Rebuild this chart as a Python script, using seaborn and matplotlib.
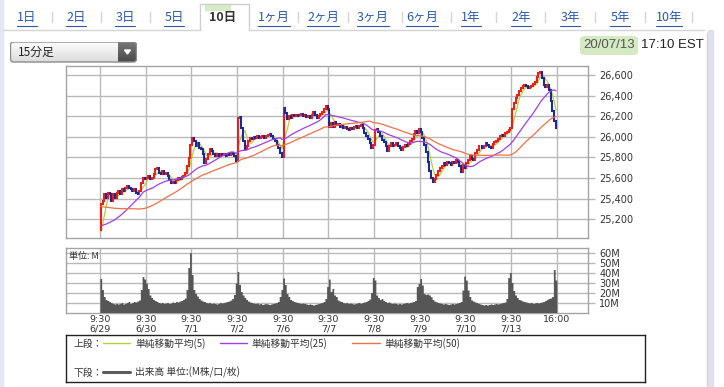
import numpy as np
import pandas as pd
import matplotlib
matplotlib.use('Agg')
import matplotlib.pyplot as plt
import seaborn as sns
from matplotlib.patches import FancyBboxPatch, Rectangle, Polygon
from matplotlib.lines import Line2D

sns.set_theme(style='white')
plt.rcParams['font.family'] = ['DejaVu Sans', 'Noto Sans CJK JP']
JP = ['Noto Sans CJK JP', 'DejaVu Sans']

# --- data (15-minute bars, 26 per session) ---
days = ['6/29', '6/30', '7/1', '7/2', '7/6', '7/7', '7/8', '7/9', '7/10', '7/13']

# bars before 6/29, estimated from where the moving averages start
prior_closes = [25560, 25540, 25550, 25530, 25520, 25540, 25530, 25510, 25500, 25520,
                25510, 25490, 25500, 25520, 25510, 25500, 25490, 25510, 25500, 25490,
                25480, 25500, 25490, 25480, 25470,
                25330, 25300, 25280, 25250, 25230, 25200, 25190, 25170, 25150, 25140,
                25130, 25120, 25110, 25100, 25090, 25080, 25070, 25060, 25050, 25040,
                25030, 25020, 25010, 25000]
first_open = 25100

close_0629 = [25344, 25376, 25441, 25409, 25457, 25441, 25376, 25441, 25409, 25457, 25473, 25441, 25489,
              25473, 25506, 25522, 25506, 25489, 25473, 25489, 25457, 25441, 25473, 25554, 25602, 25586]
close_0630 = [25602, 25619, 25586, 25602, 25635, 25683, 25699, 25651, 25635, 25667, 25635, 25651, 25619,
              25577, 25554, 25564, 25554, 25577, 25602, 25586, 25609, 25619, 25651, 25716, 25796, 25925]
close_0701 = [25990, 25958, 25909, 25942, 25893, 25877, 25829, 25748, 25780, 25829, 25877, 25861, 25829,
              25812, 25835, 25812, 25829, 25819, 25835, 25812, 25835, 25819, 25845, 25829, 25812, 25764]
close_0702 = [26184, 26190, 26087, 25958, 25877, 25909, 25958, 25990, 25974, 25997, 25984, 26003, 25990,
              26000, 26009, 25990, 26006, 26016, 26029, 26006, 25974, 25958, 25925, 25893, 25845, 25805]
close_0706 = [26281, 26232, 26168, 26200, 26184, 26216, 26200, 26216, 26200, 26210, 26223, 26200, 26210,
              26190, 26200, 26184, 26216, 26242, 26210, 26184, 26200, 26223, 26242, 26265, 26297, 26265]
close_0707 = [26099, 26132, 26099, 26141, 26116, 26122, 26099, 26109, 26083, 26096, 26077, 26067, 26090,
              26077, 26096, 26109, 26090, 26106, 26116, 26083, 26035, 26012, 25980, 25938, 25896, 25916]
close_0708 = [26067, 26077, 26051, 26003, 25970, 25948, 25906, 25864, 25915, 25935, 25906, 25922, 25935,
              25915, 25889, 25873, 25902, 25922, 25906, 25928, 25961, 25980, 26025, 26057, 26035, 26077]
close_0709 = [26051, 25993, 25922, 25851, 25760, 25670, 25599, 25566, 25592, 25631, 25670, 25696, 25721,
              25744, 25728, 25760, 25741, 25728, 25760, 25747, 25776, 25760, 25712, 25657, 25728, 25700]
close_0710 = [25744, 25776, 25809, 25786, 25776, 25841, 25873, 25906, 25915, 25889, 25906, 25935, 25922,
              25902, 25896, 25928, 25948, 25961, 25980, 26003, 26019, 26012, 26035, 26051, 26064, 26083]
close_0713 = [26270, 26330, 26375, 26410, 26440, 26470, 26490, 26505, 26490, 26475, 26480, 26490, 26510,
              26535, 26580, 26615, 26632, 26570, 26505, 26480, 26505, 26450, 26350, 26250, 26150, 26085]

# volume, millions
vol_0629 = [34, 23, 16, 13, 12, 11, 10, 9, 8.5, 9, 8.5, 9, 10, 8.5, 9, 10, 11, 9, 10, 11, 10.5, 11.5, 12.5, 23, 36, 33.5]
vol_0630 = [29.5, 24, 17.5, 15, 13, 12, 11, 10, 9.5, 10, 9, 9.5, 10, 9, 9.5, 10.5, 10, 11, 10.5, 11.5, 12, 13, 14.5, 23, 45, 60]
vol_0701 = [38, 23, 19, 16.5, 14, 12.5, 11.5, 11, 10, 9.5, 10, 9, 9.5, 9, 8.5, 9, 10, 9.5, 10, 10.5, 11, 11.5, 12.5, 14, 18, 29.5]
vol_0702 = [41, 28, 21, 17.5, 15, 13, 11.5, 10.5, 10, 9.5, 9, 9.5, 8.5, 9, 8, 8.5, 9, 8.5, 8, 8.5, 9, 9.5, 10, 11, 16, 23]
vol_0706 = [34.5, 28, 19, 16, 13, 12, 11, 10.5, 10, 9.5, 9, 9.5, 9, 8.5, 8, 8.5, 8, 7.5, 8, 8.5, 9, 9.5, 10, 11, 14, 26]
vol_0707 = [33.5, 21, 24, 17.5, 16, 12.5, 11.5, 11, 10, 9.5, 10, 9, 9.5, 9, 8.5, 9, 9.5, 10, 9, 10, 10.5, 11, 12, 13.5, 20, 35]
vol_0708 = [32.5, 17.5, 15, 13, 14, 12, 11, 10, 10.5, 9.5, 9, 9.5, 9, 8.5, 9, 8.5, 9, 9.5, 10, 9.5, 10, 10.5, 11, 12, 26, 29]
vol_0709 = [34, 27.5, 19, 18, 18.5, 17.5, 15.8, 13, 11.4, 10.7, 10, 9.5, 9, 8.5, 9, 8.5, 8, 8.5, 9, 8.5, 9, 9.5, 10, 11, 22.5, 36.5]
vol_0710 = [32.5, 22.5, 16, 12.5, 11.5, 10.5, 10, 9, 8.5, 8, 7.5, 8, 7.5, 8, 8.5, 8, 8.5, 9, 8.5, 9, 9.5, 10, 10.5, 14, 35, 40]
vol_0713 = [30, 22, 17.5, 15, 13, 12.5, 11.5, 11, 10.5, 10, 9.5, 10, 9, 9.5, 10, 9.5, 10, 10.5, 11, 12, 13, 14, 14.5, 16, 43, 32.5]

price_ticks = [25200, 25400, 25600, 25800, 26000, 26200, 26400, 26600]
vol_ticks = [10, 20, 30, 40, 50, 60]
ma_windows = [5, 25, 50]
ma_colors = ['#b4d23c', '#a040e8', '#f0704a']

closes = np.array(close_0629 + close_0630 + close_0701 + close_0702 + close_0706 +
                  close_0707 + close_0708 + close_0709 + close_0710 + close_0713, dtype=float)
volume = np.array(vol_0629 + vol_0630 + vol_0701 + vol_0702 + vol_0706 +
                  vol_0707 + vol_0708 + vol_0709 + vol_0710 + vol_0713, dtype=float)
n = len(closes)
bar_x = np.arange(n) + 0.5
opens = np.r_[first_open, closes[:-1]]

full = pd.Series(np.r_[prior_closes, closes])
df = pd.DataFrame({'x': bar_x})
for w in ma_windows:
    df[f'sma{w}'] = full.rolling(w).mean().values[len(prior_closes):]

day_edges = np.arange(0, n + 1, 26)

# --- figure in pixel layout ---
W, H = 724, 387
fig = plt.figure(figsize=(W / 100, H / 100), dpi=100)
fig.patch.set_facecolor('white')


def fx(x):
    return x / W


def fy(y):
    return 1 - y / H


def box(x0, y0, x1, y1):
    return [fx(x0), fy(y1), (x1 - x0) / W, (y1 - y0) / H]


grid_c = '#b9b9b9'
frame_c = '#a4a4a4'

# main price panel
ax = fig.add_axes(box(66, 66, 588, 238))
ax.set_xlim(-19.3, 277.7)
ax.set_ylim(25018, 26687)
sns.lineplot(data=df, x='x', y='sma5', ax=ax, color=ma_colors[0], linewidth=0.9, zorder=2)
up = closes >= opens
ax.vlines(bar_x[up], opens[up], closes[up], colors='#e8201c', linewidth=1.5, zorder=3, capstyle='projecting')
ax.vlines(bar_x[~up], opens[~up], closes[~up], colors='#1a2a96', linewidth=1.5, zorder=3, capstyle='projecting')
sns.lineplot(data=df, x='x', y='sma25', ax=ax, color=ma_colors[1], linewidth=0.9, zorder=4)
sns.lineplot(data=df, x='x', y='sma50', ax=ax, color=ma_colors[2], linewidth=0.9, zorder=4)
ax.set_xlabel('')
ax.set_ylabel('')
ax.set_xticks(day_edges)
ax.set_xticklabels([])
ax.set_yticks(price_ticks)
ax.set_yticklabels([f'{v:,}' for v in price_ticks])
ax.yaxis.tick_right()
ax.tick_params(axis='x', length=0)
ax.tick_params(axis='y', length=5, width=1, color=grid_c, labelsize=7, labelcolor='#333333', pad=3)
ax.grid(True, color=grid_c, linewidth=1.0)
ax.set_axisbelow(True)
for s in ax.spines.values():
    s.set_color(frame_c)
    s.set_linewidth(1.0)

# volume panel, drawn as a stepped area so the bars join up
axv = fig.add_axes(box(66, 248, 588, 312.5))
axv.set_xlim(-19.3, 277.7)
axv.set_ylim(0, 64.6)
axv.fill_between(np.arange(n + 1), np.r_[volume, volume[-1]], step='post',
                 color='#565656', linewidth=0, zorder=3)
axv.set_xticks(day_edges)
axv.set_xticklabels([f'9:30\n{d}' for d in days] + ['16:00'], fontsize=6.8, color='#333333', linespacing=1.05)
axv.set_yticks(vol_ticks)
axv.set_yticklabels([f'{v}M' for v in vol_ticks])
axv.yaxis.tick_right()
axv.tick_params(axis='x', length=0, pad=2)
axv.tick_params(axis='y', length=5, width=1, color=grid_c, labelsize=7, labelcolor='#333333', pad=3)
axv.grid(True, color=grid_c, linewidth=1.0)
axv.set_axisbelow(True)
for s in axv.spines.values():
    s.set_color(frame_c)
    s.set_linewidth(1.0)
fig.text(fx(69), fy(256), '単位: M', family=JP, fontsize=6.5, color='#333333', va='center')

# legend box
axl = fig.add_axes(box(66, 335, 645, 382))
axl.set_xlim(66, 645)
axl.set_ylim(382, 335)
axl.set_xticks([])
axl.set_yticks([])
for s in axl.spines.values():
    s.set_color('#222222')
    s.set_linewidth(1.0)
axl.text(73, 343.5, '上段：', family=JP, fontsize=7, color='#333333', va='center')
leg_x = [(103, 130, 135), (220, 247, 251), (352, 380, 384)]
for (x0, x1, tx), w, c in zip(leg_x, ma_windows, ma_colors):
    axl.plot([x0, x1], [343, 343], color=c, linewidth=1.0)
    axl.text(tx, 343.5, f'単純移動平均({w})', family=JP, fontsize=7, color='#333333', va='center')
axl.text(73, 372.5, '下段：', family=JP, fontsize=7, color='#333333', va='center')
axl.plot([103, 130], [372, 372], color='#5b5b5b', linewidth=2.2)
axl.text(135, 372.5, '出来高 単位:(M株/口/枚)', family=JP, fontsize=7, color='#333333', va='center')

# --- page header: period tabs, selector, timestamp ---
tab_labels = ['1日', '2日', '3日', '5日', '10日', '1ヶ月', '2ヶ月', '3ヶ月', '6ヶ月',
              '1年', '2年', '3年', '5年', '10年']
tab_x = [27, 76, 125, 174, 223, 274, 323, 373, 422, 471, 521, 570, 620, 669]
sep_x = [52, 101, 150, 298, 348, 402, 451, 496, 545, 595, 645, 692]

fig.patches.append(Rectangle((0, fy(387)), fx(3), 1, transform=fig.transFigure, color='#e7e7f3', zorder=0))
fig.patches.append(Rectangle((fx(708), 0), fx(5), fy(30), transform=fig.transFigure, color='#dde2ee', zorder=0))
fig.lines.append(Line2D([fx(3), fx(200)], [fy(29.5)] * 2, transform=fig.transFigure, color='#d4d4d4', lw=1))
fig.lines.append(Line2D([fx(249), fx(704)], [fy(29.5)] * 2, transform=fig.transFigure, color='#d4d4d4', lw=1))
fig.lines.append(Line2D([fx(707), fx(707)], [0, fy(33)], transform=fig.transFigure, color='#d4d4d4', lw=1))
# active tab with a faint green glow
fig.patches.append(Rectangle((fx(205), fy(10)), fx(25), 6 / H, transform=fig.transFigure,
                             color='#cfe8bd', alpha=0.8, zorder=1))
fig.lines.append(Line2D([fx(200), fx(200), fx(249), fx(249)], [fy(29.5), fy(4), fy(4), fy(29.5)],
                        transform=fig.transFigure, color='#d0d0d0', lw=1))
for s in sep_x:
    fig.lines.append(Line2D([fx(s), fx(s)], [fy(12), fy(22)], transform=fig.transFigure, color='#d6d6d6', lw=1))

tab_texts = []
for lab, x in zip(tab_labels, tab_x):
    if lab == '10日':
        fig.text(fx(x), fy(17.5), lab, family=JP, fontsize=9, fontweight='bold', color='#333333',
                 ha='center', va='center')
    else:
        tab_texts.append(fig.text(fx(x), fy(17.5), lab, family=JP, fontsize=9, color='#2a5aa8',
                                  ha='center', va='center'))

# selector
axd = fig.add_axes(box(10, 41.5, 137, 62.5))
axd.set_xlim(0, 127)
axd.set_ylim(21, 0)
axd.axis('off')
clip = FancyBboxPatch((0.5, 0.5), 126, 20, boxstyle='round,pad=0,rounding_size=3',
                      facecolor='none', edgecolor='#8c8c8c', linewidth=1, zorder=5)
axd.add_patch(clip)
grad = np.linspace(0, 1, 32).reshape(-1, 1)
im1 = axd.imshow(grad, extent=(0, 108, 21, 0), cmap=sns.blend_palette(['#ffffff', '#dcdcdc'], as_cmap=True),
                 aspect='auto', zorder=1)
im2 = axd.imshow(grad, extent=(108, 127, 21, 0), cmap=sns.blend_palette(['#7a7a7a', '#4a4a4a'], as_cmap=True),
                 aspect='auto', zorder=2)
im1.set_clip_path(clip)
im2.set_clip_path(clip)
axd.add_patch(Polygon([(114.5, 8.5), (120.5, 8.5), (117.5, 12.5)], closed=True, color='white', zorder=6))
axd.text(8, 10.5, '15分足', family=JP, fontsize=8.5, color='#222222', va='center')

# timestamp
fig.patches.append(FancyBboxPatch((fx(580), fy(55)), fx(58), 19 / H, boxstyle='round,pad=0,rounding_size=0.008',
                                  transform=fig.transFigure, facecolor='#d4eac2', edgecolor='none'))
fig.text(fx(583), fy(45.5), '20/07/13', family='Liberation Sans', fontsize=9.5, color='#555555', va='center')
fig.text(fx(641), fy(45.5), '17:10 EST', family='Liberation Sans', fontsize=9.5, color='#222222', va='center')

# underline the tab links
fig.canvas.draw()
inv = fig.transFigure.inverted()
for t in tab_texts:
    bb = t.get_window_extent()
    (x0, y0), (x1, _) = inv.transform([(bb.x0, bb.y0), (bb.x1, bb.y1)])
    fig.lines.append(Line2D([x0, x1], [y0 - 0.004, y0 - 0.004], transform=fig.transFigure,
                            color='#2a5aa8', lw=0.8))

fig.savefig('out.png', dpi=100)
